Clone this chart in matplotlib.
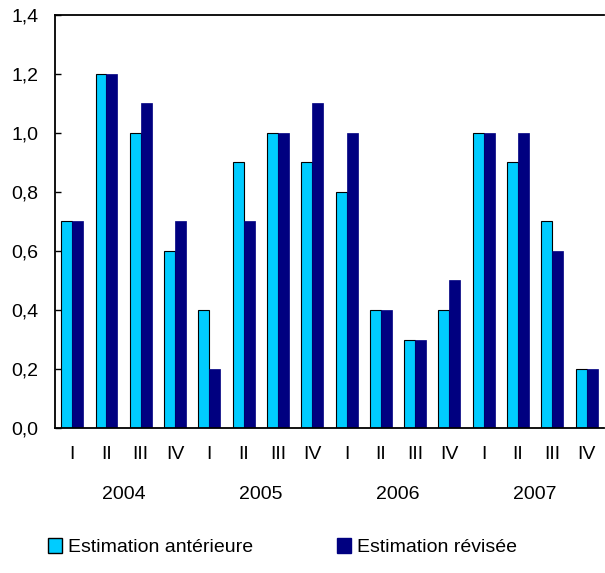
import numpy as np
import matplotlib
matplotlib.use('Agg')
import matplotlib.pyplot as plt
from matplotlib.patches import Patch

plt.rcParams['font.family'] = ['Liberation Sans', 'DejaVu Sans']

quarters = ['I', 'II', 'III', 'IV'] * 4
years = ['2004', '2005', '2006', '2007']
anterieure = [0.7, 1.2, 1.0, 0.6, 0.4, 0.9, 1.0, 0.9, 0.8, 0.4, 0.3, 0.4, 1.0, 0.9, 0.7, 0.2]
revisee = [0.7, 1.2, 1.1, 0.7, 0.2, 0.7, 1.0, 1.1, 1.0, 0.4, 0.3, 0.5, 1.0, 1.0, 0.6, 0.2]

CYAN = '#00ccff'
NAVY = '#000080'
FS = 14

fig = plt.figure(figsize=(6.05, 5.73), dpi=100)
ax = fig.add_axes([0.091, 0.253, 0.907, 0.721])

x = np.arange(len(quarters))
w = 0.32
ax.bar(x - w / 2, anterieure, w, color=CYAN, edgecolor='black', linewidth=0.8)
ax.bar(x + w / 2, revisee, w, color=NAVY, edgecolor=NAVY, linewidth=0.5)

ax.set_xlim(-0.5, len(quarters) - 0.5)
ax.set_ylim(0, 1.4)
ax.set_yticks(np.arange(0, 1.41, 0.2))
ax.set_yticklabels([f'{v:.1f}'.replace('.', ',') for v in np.arange(0, 1.41, 0.2)], fontsize=FS)
ax.tick_params(axis='y', direction='in', length=4, width=1, pad=12)
ax.set_xticks(x)
ax.set_xticklabels(quarters, fontsize=FS)
ax.tick_params(axis='x', length=0, pad=13)
for s in ax.spines.values():
    s.set_linewidth(1.3)
ax.spines['right'].set_visible(False)

# year labels under each group of four quarters
for i, yr in enumerate(years):
    ax.text(i * 4 + 1.5, -0.225, yr, ha='center', va='center', fontsize=FS,
            transform=ax.transData, clip_on=False)

handles = [Patch(facecolor=CYAN, edgecolor='black', label='Estimation antérieure'),
           Patch(facecolor=NAVY, edgecolor=NAVY, label='Estimation révisée')]
fig.legend(handles=handles, loc='center left', bbox_to_anchor=(0.05, 0.045), ncol=2,
           frameon=False, fontsize=FS, handlelength=0.75, handleheight=0.75,
           handletextpad=0.3, columnspacing=4.3)

fig.savefig('out.png', dpi=100)
